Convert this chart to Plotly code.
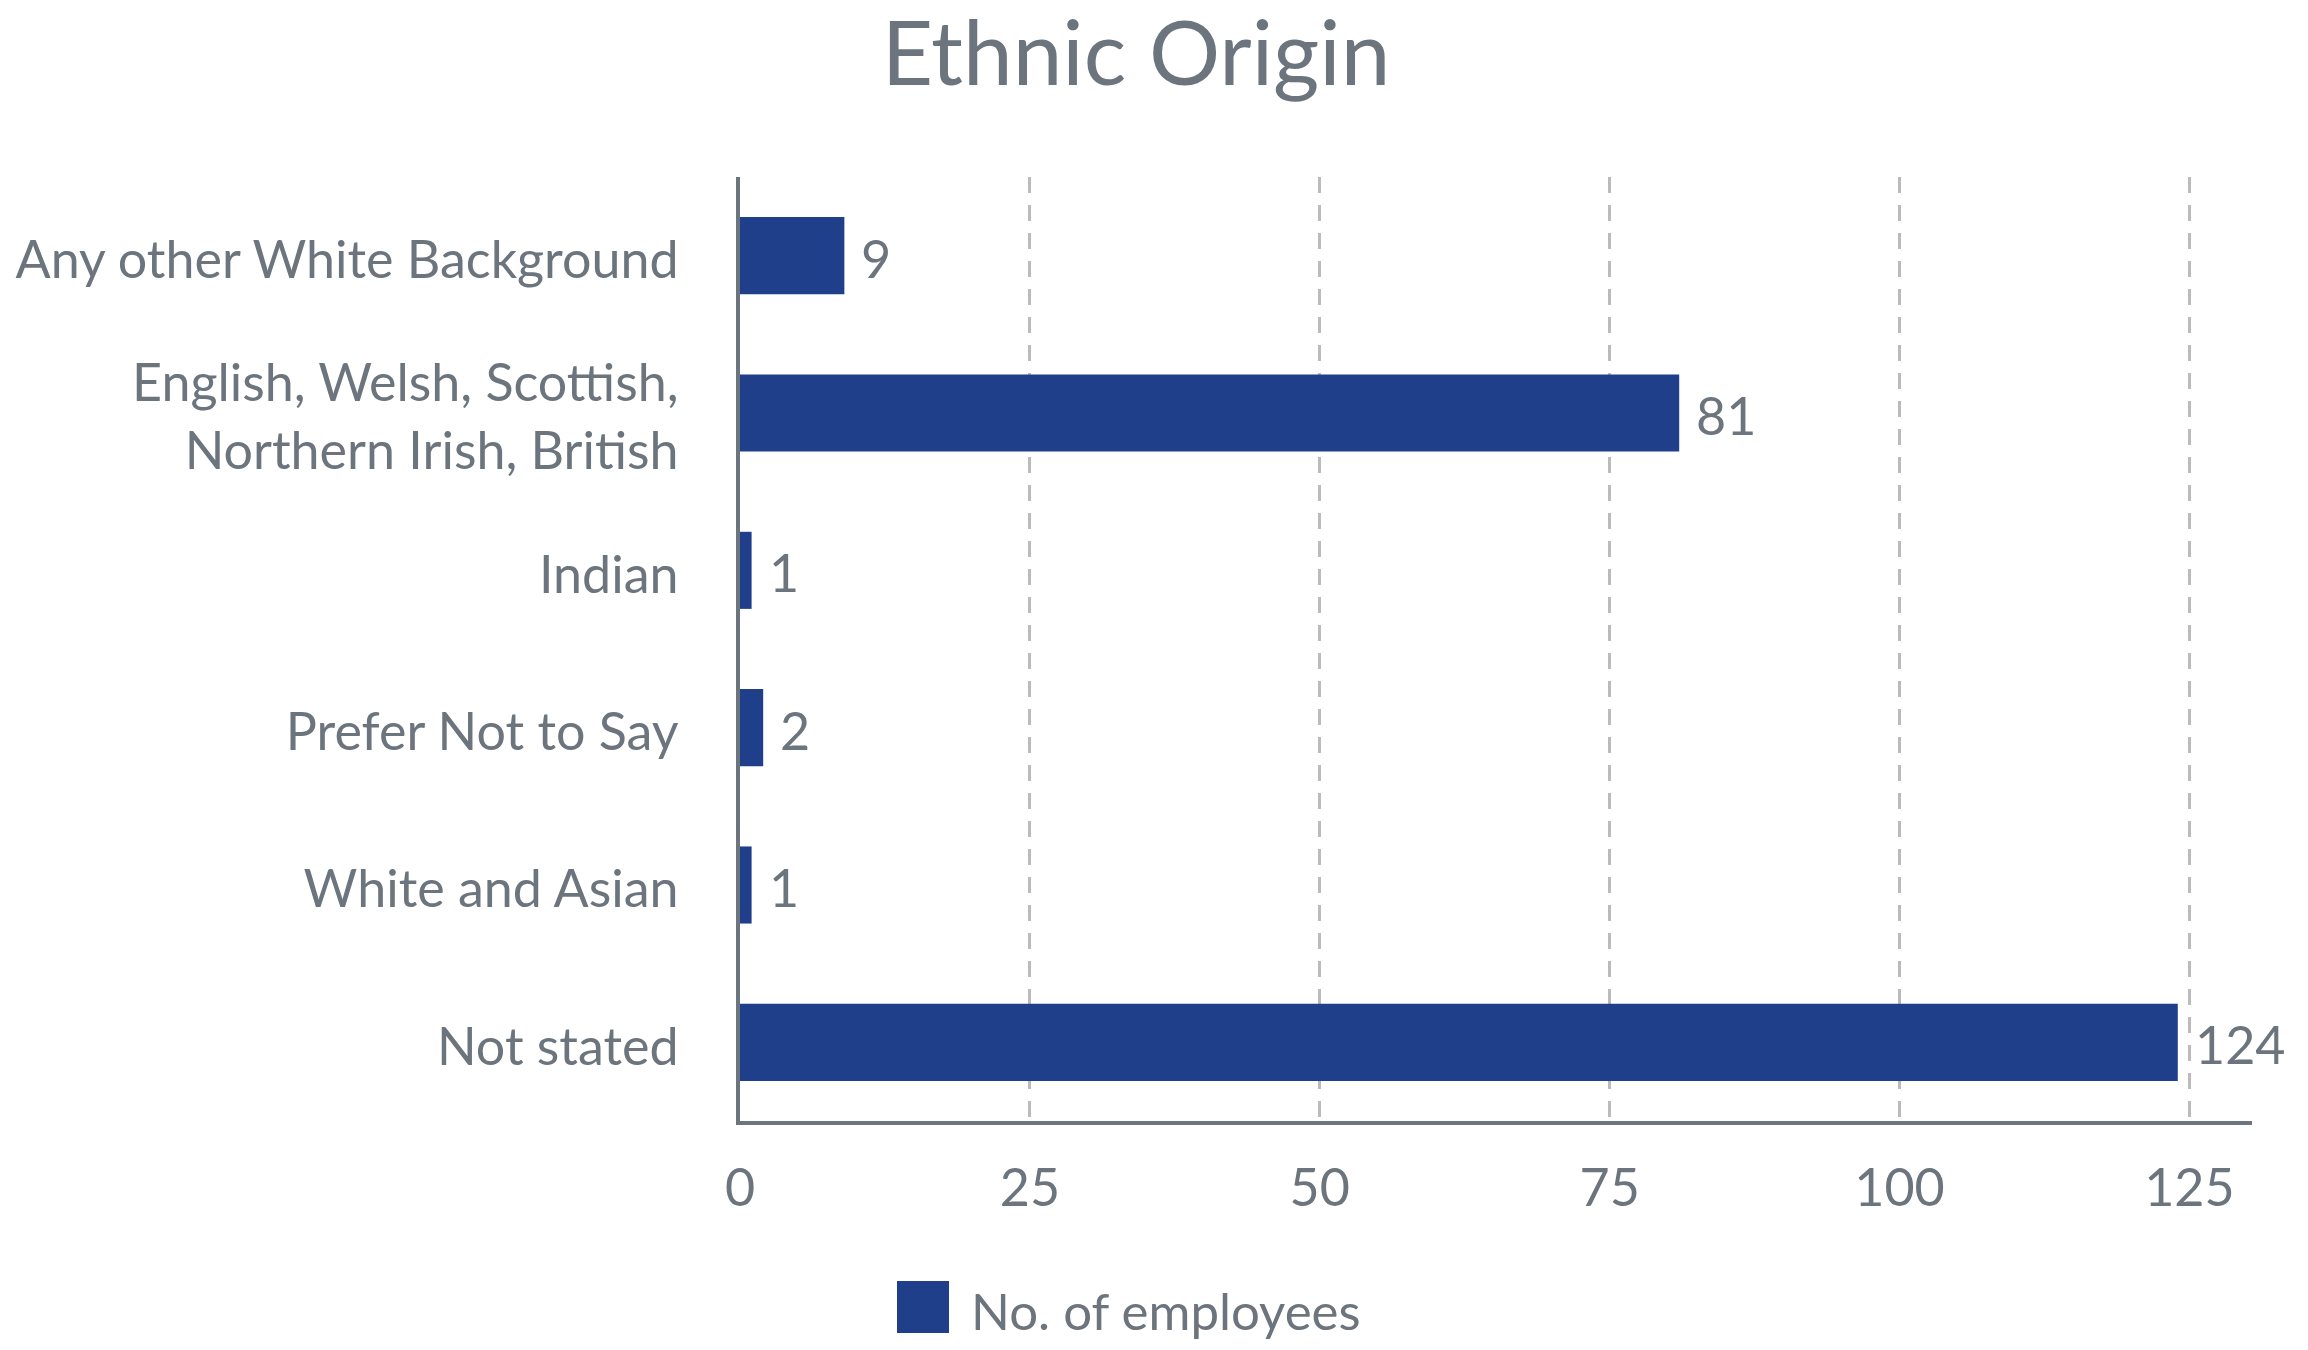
import plotly.graph_objects as go

categories = [
    "Any other White Background",
    "English, Welsh, Scottish,<br>Northern Irish, British",
    "Indian",
    "Prefer Not to Say",
    "White and Asian",
    "Not stated",
]
employees = [9, 81, 1, 2, 1, 124]
x_ticks = [0, 25, 50, 75, 100, 125]
series_name = "No. of employees"
title_text = "Ethnic Origin"

GRAY = "#6c757d"
BAR = "#1f3f8a"
FONT = "Lato"

# the page body has an 8px margin, so the figure is drawn 8px smaller
OFF = 8
W, H = 2308 - OFF, 1350 - OFF
L, T = 740 - OFF, 177 - OFF
R, B = 56, 229
PW, PH = W - L - R, H - T - B

fig = go.Figure()
fig.add_trace(go.Bar(
    x=employees, y=categories, orientation="h",
    marker=dict(color=BAR, line=dict(width=0)),
    name=series_name, showlegend=False,
    hoverinfo="x+y",
))

# data labels
for c, v in zip(categories, employees):
    fig.add_annotation(x=v, y=c, xref="x", yref="y", text=str(v),
                       showarrow=False, xanchor="left", yanchor="middle",
                       xshift=15, yshift=-2,
                       font=dict(family=FONT, size=52, color=GRAY))

# manual legend (reference pixel positions converted to paper coords)
def px_x(p):
    return (p - OFF - L) / PW

def px_y(p):
    return (H - B - (p - OFF)) / PH

fig.add_shape(type="rect", xref="paper", yref="paper",
              x0=px_x(897), x1=px_x(949), y0=px_y(1333), y1=px_y(1281),
              fillcolor=BAR, line=dict(width=0))
fig.add_annotation(x=px_x(969), y=px_y(1310), xref="paper", yref="paper",
                   text=series_name, showarrow=False, xanchor="left",
                   yanchor="middle",
                   font=dict(family=FONT, size=51, color=GRAY))

fig.update_layout(
    width=W, height=H,
    margin=dict(l=L, r=R, t=T, b=B, pad=0, autoexpand=False),
    paper_bgcolor="white", plot_bgcolor="white",
    font=dict(family=FONT, color=GRAY),
    title=dict(text=title_text, x=(1136 - OFF) / W, xanchor="center", xref="container",
               y=1 - (54 - OFF) / H, yanchor="middle", yref="container",
               font=dict(family=FONT, size=89, color=GRAY)),
    bargap=0.51,
    showlegend=False,
    xaxis=dict(range=[0, 130.4], tickvals=x_ticks, ticktext=[str(t) for t in x_ticks],
               showgrid=True, gridcolor="#bbbbbb", gridwidth=3, griddash="16px,12px",
               showline=True, linecolor=GRAY, linewidth=4,
               ticks="outside", ticklen=19, tickcolor="rgba(0,0,0,0)",
               tickfont=dict(family=FONT, size=52, color=GRAY),
               zeroline=False, fixedrange=True, automargin=False),
    yaxis=dict(autorange="reversed", showgrid=False,
               showline=True, linecolor=GRAY, linewidth=4,
               ticks="outside", ticklen=47, tickcolor="rgba(0,0,0,0)",
               ticklabelshift=-4,
               tickfont=dict(family=FONT, size=52, color=GRAY),
               fixedrange=True, automargin=False),
)

fig.write_html("out.html")
